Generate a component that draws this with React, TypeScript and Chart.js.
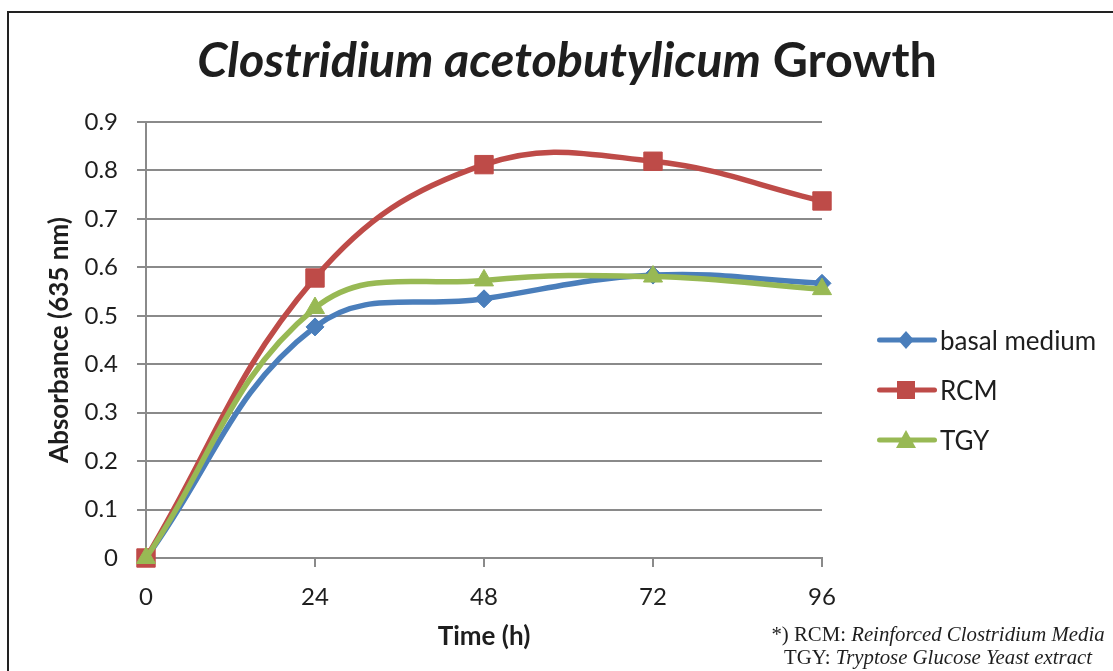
import React, { useEffect, useRef } from 'react';
import { Chart, registerables } from 'chart.js';

Chart.register(...registerables);

const timeLabels = ['0', '24', '48', '72', '96'];
const basalMedium = [0, 0.477, 0.535, 0.584, 0.567];
const rcm = [0, 0.578, 0.812, 0.819, 0.737];
const tgy = [0, 0.516, 0.573, 0.581, 0.555];
const yTickValues = [0, 0.1, 0.2, 0.3, 0.4, 0.5, 0.6, 0.7, 0.8, 0.9];
const seriesNames = ['basal medium', 'RCM', 'TGY'];

const BLUE = '#4A7EBB';
const RED = '#BE4B48';
const GREEN = '#98B954';
const GRID = '#8a8a8a';
const TEXT = '#1e1e1e';
const FONT = 'Lato';

function LegendIcon({ color, shape }: { color: string; shape: string }) {
  let marker: React.ReactNode = null;
  if (shape === 'diamond') marker = <polygon points="29,3 37,12 29,21 21,12" fill={color} />;
  if (shape === 'square') marker = <rect x={20} y={3} width={18} height={18} fill={color} />;
  if (shape === 'triangle') marker = <polygon points="29,2 39,20 19,20" fill={color} />;
  return (
    <svg width={60} height={24} style={{ display: 'block' }}>
      <line x1={2.5} y1={12} x2={57.5} y2={12} stroke={color} strokeWidth={5} strokeLinecap="round" />
      {marker}
    </svg>
  );
}

export default function App() {
  const canvasRef = useRef<HTMLCanvasElement | null>(null);

  useEffect(() => {
    if (!canvasRef.current) return;
    const chart = new Chart(canvasRef.current, {
      type: 'line',
      data: {
        labels: timeLabels,
        datasets: [
          {
            label: seriesNames[0],
            data: basalMedium,
            borderColor: BLUE,
            backgroundColor: BLUE,
            borderWidth: 5.5,
            pointStyle: 'rectRot',
            pointRadius: 9,
            pointBorderWidth: 1,
            tension: 0.4,
            clip: false,
            order: 3,
          },
          {
            label: seriesNames[1],
            data: rcm,
            borderColor: RED,
            backgroundColor: RED,
            borderWidth: 5.5,
            pointStyle: 'rect',
            pointRadius: 13,
            pointBorderWidth: 1,
            tension: 0.4,
            clip: false,
            order: 2,
          },
          {
            label: seriesNames[2],
            data: tgy,
            borderColor: GREEN,
            backgroundColor: GREEN,
            borderWidth: 5.5,
            pointStyle: 'triangle',
            pointRadius: 11,
            pointBorderWidth: 1,
            tension: 0.4,
            clip: false,
            order: 1,
          },
        ],
      },
      options: {
        animation: false,
        responsive: false,
        maintainAspectRatio: false,
        layout: { padding: { left: 0, top: 122, right: 291, bottom: 0 } },
        plugins: {
          legend: { display: false },
          title: { display: false },
          tooltip: { enabled: false },
        },
        scales: {
          x: {
            type: 'category',
            offset: false,
            grid: { drawOnChartArea: false, drawTicks: true, tickLength: 9, color: GRID, lineWidth: 2 },
            border: { color: GRID, width: 2 },
            ticks: { padding: 16, autoSkip: false, maxRotation: 0, color: TEXT, font: { family: FONT, size: 24 } },
            title: {
              display: true,
              text: 'Time (h)',
              color: TEXT,
              font: { family: FONT, size: 26, weight: 'bold' },
              padding: { top: 0, bottom: 19 },
            },
            afterFit: (s: any) => {
              s.height = 113;
            },
          },
          y: {
            min: 0,
            max: 0.9,
            afterBuildTicks: (s: any) => {
              s.ticks = yTickValues.map((v) => ({ value: v }));
            },
            grid: { color: GRID, lineWidth: 2, tickLength: 9, drawTicks: true },
            border: { color: GRID, width: 2 },
            ticks: {
              padding: 19,
              color: TEXT,
              font: { family: FONT, size: 24 },
              callback: (v: any) => String(Math.round(Number(v) * 10) / 10),
            },
            title: {
              display: true,
              text: 'Absorbance (635 nm)',
              color: TEXT,
              font: { family: FONT, size: 26, weight: 'bold' },
              padding: { top: 44, bottom: 0 },
            },
            afterFit: (s: any) => {
              s.width = 146;
            },
          },
        },
      },
    });
    return () => chart.destroy();
  }, []);

  const legendRows = [
    { name: seriesNames[0], color: BLUE, shape: 'diamond', y: 340 },
    { name: seriesNames[1], color: RED, shape: 'square', y: 390 },
    { name: seriesNames[2], color: GREEN, shape: 'triangle', y: 440 },
  ];

  return (
    <div style={{ position: 'fixed', left: 0, top: 0, width: 1113, height: 671, background: '#fff', overflow: 'hidden' }}>
      <div
        style={{
          position: 'absolute',
          left: 7,
          top: 11,
          right: -20,
          bottom: -20,
          borderLeft: '2px solid #222',
          borderTop: '2px solid #222',
        }}
      />
      <canvas ref={canvasRef} width={1113} height={671} style={{ position: 'absolute', left: 0, top: 0 }} />
      <div
        style={{
          position: 'absolute',
          left: 0,
          width: 1134,
          top: 34,
          textAlign: 'center',
          fontFamily: FONT,
          fontWeight: 'bold',
          fontSize: 48.5,
          lineHeight: '48px',
          color: TEXT,
          whiteSpace: 'nowrap',
        }}
      >
        <i>Clostridium acetobutylicum</i> Growth
      </div>
      {legendRows.map((r) => (
        <div
          key={r.name}
          style={{
            position: 'absolute',
            left: 877,
            top: r.y - 15,
            height: 30,
            display: 'flex',
            alignItems: 'center',
            fontFamily: FONT,
            fontSize: 26,
            color: TEXT,
            whiteSpace: 'nowrap',
          }}
        >
          <LegendIcon color={r.color} shape={r.shape} />
          <span style={{ marginLeft: 3 }}>{r.name}</span>
        </div>
      ))}
      <div
        style={{
          position: 'absolute',
          left: 738,
          width: 400,
          top: 622,
          textAlign: 'center',
          fontFamily: '"Liberation Serif", "Times New Roman", serif',
          fontSize: 20.8,
          lineHeight: '23px',
          color: TEXT,
          whiteSpace: 'nowrap',
        }}
      >
        <div>
          *) RCM: <i>Reinforced Clostridium Media</i>
        </div>
        <div>
          TGY: <i>Tryptose Glucose Yeast extract</i>
        </div>
      </div>
    </div>
  );
}
